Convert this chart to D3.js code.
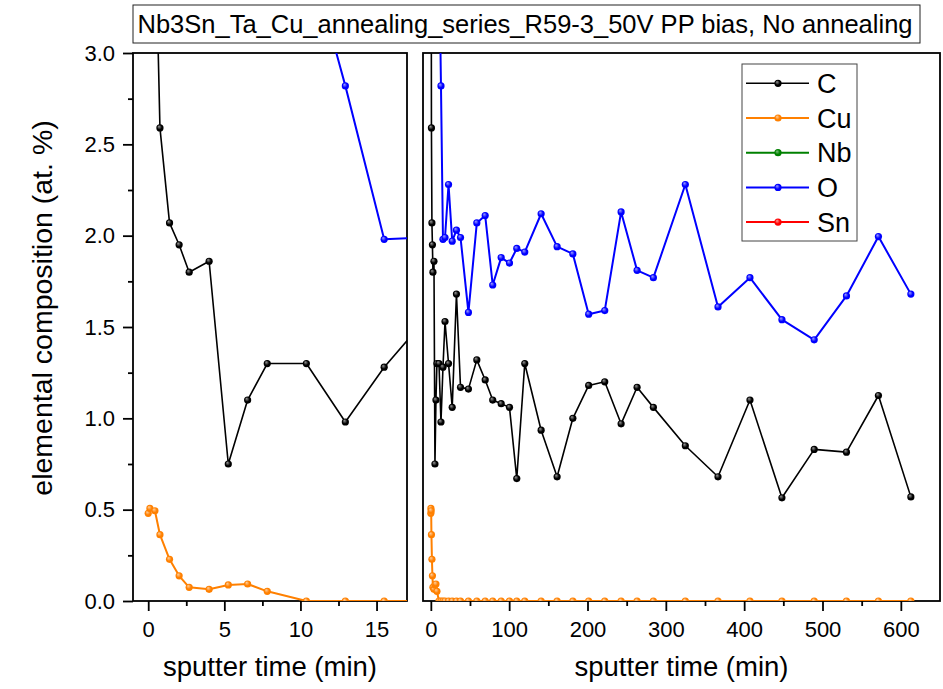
<!DOCTYPE html>
<html>
<head>
<meta charset="utf-8">
<script src="https://cdn.jsdelivr.net/npm/d3@7"></script>
<style>
  body { margin: 0; background: #fff; }
  svg { display: block; font-family: "Liberation Sans", Arial, sans-serif; }
</style>
</head>
<body>
<script>
// sputter time (min) of each depth profile step
const times = [0, 0.11, 0.44, 0.77, 1.40, 2.03, 2.69, 4.0, 5.26, 6.53, 7.82, 10.39, 12.95, 15.5,
  18.1, 22.6, 27.3, 32.7, 37.9, 48.0, 58.7, 69.4, 79.0, 89.8, 100.4, 109.7, 119.9, 140.8, 161.2,
  181.3, 201.5, 222.0, 242.9, 263.3, 284.1, 324.9, 366.6, 407.4, 448.2, 489.4, 530.6, 571.4, 612.8];

// at. % per element (first values of C and O are above the visible range)
const cValues = [8.0, 5.5, 3.8, 2.59, 2.07, 1.95, 1.80, 1.86, 0.75, 1.10, 1.30, 1.30, 0.98, 1.28,
  1.53, 1.30, 1.06, 1.68, 1.17, 1.16, 1.32, 1.21, 1.10, 1.08, 1.06, 0.67, 1.30, 0.935, 0.68,
  1.00, 1.18, 1.20, 0.97, 1.17, 1.06, 0.85, 0.68, 1.10, 0.565, 0.83, 0.815, 1.125, 0.57];
const cuValues = [0.48, 0.507, 0.494, 0.363, 0.228, 0.138, 0.075, 0.064, 0.088, 0.093, 0.053, 0, 0, 0,
  0, 0, 0, 0, 0, 0, 0, 0, 0, 0, 0, 0, 0, 0, 0,
  0, 0, 0, 0, 0, 0, 0, 0, 0, 0, 0, 0, 0, 0];
const oValues = [12, 10, 8, 7, 6, 5.5, 5, 4.6, 4.3, 4.0, 3.8, 3.6, 2.82, 1.98,
  1.99, 2.28, 1.97, 2.03, 1.99, 1.58, 2.07, 2.11, 1.73, 1.88, 1.85, 1.93, 1.91, 2.12, 1.94,
  1.90, 1.57, 1.59, 2.13, 1.81, 1.77, 2.28, 1.61, 1.77, 1.54, 1.43, 1.67, 1.995, 1.68];
// Nb and Sn lie far above the plotted range, nothing of them is visible
const nbValues = [];
const snValues = [];

const seriesNames = ['C', 'Cu', 'Nb', 'O', 'Sn'];

const yTicks = [0, 0.5, 1.0, 1.5, 2.0, 2.5, 3.0];
const yMinorTicks = [0.25, 0.75, 1.25, 1.75, 2.25, 2.75];
const leftXTicks = [0, 5, 10, 15];
const leftXMinorTicks = [2.5, 7.5, 12.5];
const rightXTicks = [0, 100, 200, 300, 400, 500, 600];
const rightXMinorTicks = [50, 150, 250, 350, 450, 550];

const titleText = 'Nb3Sn_Ta_Cu_annealing_series_R59-3_50V PP bias, No annealing';

const colors = { C: '#000000', Cu: '#ff8000', Nb: '#008000', O: '#0000ff', Sn: '#ff0000' };
const highlights = { C: '#9a9a9a', Cu: '#ffd0a0', Nb: '#80c080', O: '#a0a0ff', Sn: '#ffa0a0' };

const width = 943, height = 689,
      yTop = 53, yBottom = 601;

const seriesValues = [cValues, cuValues, nbValues, oValues, snValues];
const series = seriesNames.map((name, i) => ({
  name: name,
  points: seriesValues[i].map((v, j) => ({ t: times[j], v: v }))
}));

const svg = d3.select('body').append('svg')
              .attr('width', width)
              .attr('height', height);

svg.append('rect').attr('width', width).attr('height', height).attr('fill', '#fff');

const defs = svg.append('defs');
seriesNames.forEach((name) => {
  const g = defs.append('radialGradient')
                .attr('id', 'ball-' + name)
                .attr('cx', '0.5').attr('cy', '0.5').attr('r', '0.6')
                .attr('fx', '0.35').attr('fy', '0.3');
  g.append('stop').attr('offset', '0%').attr('stop-color', highlights[name]);
  g.append('stop').attr('offset', '55%').attr('stop-color', colors[name]);
  g.append('stop').attr('offset', '100%').attr('stop-color', colors[name]);
});

const yScale = d3.scaleLinear().domain([0, 3]).range([yBottom, yTop]);

const panels = [
  { id: 'left', x0: 133, x1: 407, domain: [-1, 17], ticks: leftXTicks, minor: leftXMinorTicks, showY: true },
  { id: 'right', x0: 423, x1: 940, domain: [-10, 650], ticks: rightXTicks, minor: rightXMinorTicks, showY: false }
];

panels.forEach((p) => {
  const xScale = d3.scaleLinear().domain(p.domain).range([p.x0, p.x1]);

  defs.append('clipPath')
      .attr('id', 'clip-' + p.id)
      .append('rect')
      .attr('x', p.x0).attr('y', yTop)
      .attr('width', p.x1 - p.x0).attr('height', yBottom - yTop);

  // frame
  svg.append('rect')
     .attr('x', p.x0).attr('y', yTop)
     .attr('width', p.x1 - p.x0).attr('height', yBottom - yTop)
     .attr('fill', 'none')
     .attr('stroke', '#000')
     .attr('stroke-width', 1.8);

  // x axis
  const xAxis = svg.append('g')
     .attr('class', 'x-axis')
     .attr('transform', 'translate(0,' + yBottom + ')')
     .call(d3.axisBottom(xScale).tickValues(p.ticks).tickSize(10).tickSizeOuter(0).tickPadding(10)
             .tickFormat(d3.format('d')));
  xAxis.select('.domain').remove();
  xAxis.selectAll('line').attr('stroke-width', 1.8);
  xAxis.selectAll('text').attr('font-size', 22).attr('fill', '#000');

  const xMinor = svg.append('g')
     .attr('transform', 'translate(0,' + yBottom + ')')
     .call(d3.axisBottom(xScale).tickValues(p.minor).tickSize(5).tickSizeOuter(0).tickFormat(''));
  xMinor.select('.domain').remove();
  xMinor.selectAll('line').attr('stroke-width', 1.8);

  svg.append('text')
     .attr('x', (p.x0 + p.x1) / 2)
     .attr('y', 676)
     .attr('text-anchor', 'middle')
     .attr('font-size', 27.5)
     .text('sputter time (min)');

  if (p.showY) {
    const yAxis = svg.append('g')
       .attr('transform', 'translate(' + p.x0 + ',0)')
       .call(d3.axisLeft(yScale).tickValues(yTicks).tickSize(10).tickSizeOuter(0).tickPadding(8)
               .tickFormat(d3.format('.1f')));
    yAxis.select('.domain').remove();
    yAxis.selectAll('line').attr('stroke-width', 1.8);
    yAxis.selectAll('text').attr('font-size', 22).attr('fill', '#000');

    const yMinor = svg.append('g')
       .attr('transform', 'translate(' + p.x0 + ',0)')
       .call(d3.axisLeft(yScale).tickValues(yMinorTicks).tickSize(5).tickSizeOuter(0).tickFormat(''));
    yMinor.select('.domain').remove();
    yMinor.selectAll('line').attr('stroke-width', 1.8);
  }

  // data, drawn over the axes and clipped to the panel
  const line = d3.line().x((d) => xScale(d.t)).y((d) => yScale(d.v));
  const plot = svg.append('g').attr('clip-path', 'url(#clip-' + p.id + ')');

  series.forEach((s) => {
    if (!s.points.length) return;
    plot.append('path')
        .datum(s.points)
        .attr('d', line)
        .attr('fill', 'none')
        .attr('stroke', colors[s.name])
        .attr('stroke-width', s.name === 'C' ? 1.6 : 2)
        .attr('stroke-linejoin', 'round');
    plot.selectAll('circle.m-' + s.name)
        .data(s.points)
        .enter()
        .append('circle')
        .attr('class', 'm-' + s.name)
        .attr('cx', (d) => xScale(d.t))
        .attr('cy', (d) => yScale(d.v))
        .attr('r', 3.6)
        .attr('fill', 'url(#ball-' + s.name + ')');
  });
});

// y label
svg.append('text')
   .attr('transform', 'translate(52,308) rotate(-90)')
   .attr('text-anchor', 'middle')
   .attr('font-size', 28.5)
   .text('elemental composition (at. %)');

// title box
svg.append('rect')
   .attr('x', 133).attr('y', 5)
   .attr('width', 787).attr('height', 38)
   .attr('fill', '#fff')
   .attr('stroke', '#222')
   .attr('stroke-width', 1);
svg.append('text')
   .attr('x', 525).attr('y', 33)
   .attr('text-anchor', 'middle')
   .attr('font-size', 25.5)
   .text(titleText);

// legend
const legend = svg.append('g').attr('id', 'legend');
legend.append('rect')
      .attr('x', 742).attr('y', 64)
      .attr('width', 115).attr('height', 177)
      .attr('fill', '#fff')
      .attr('stroke', '#444')
      .attr('stroke-width', 1);

const items = legend.selectAll('g.item')
      .data(seriesNames)
      .enter()
      .append('g')
      .attr('class', 'item')
      .attr('transform', (d, i) => 'translate(0,' + (83.3 + i * 34.7) + ')');
items.append('line')
     .attr('x1', 746).attr('x2', 809)
     .attr('stroke', (d) => colors[d])
     .attr('stroke-width', (d) => d === 'C' ? 1.6 : 2);
items.append('circle')
     .attr('cx', 778).attr('r', 3.6)
     .attr('fill', (d) => 'url(#ball-' + d + ')');
items.append('text')
     .attr('x', 817)
     .attr('dy', '0.36em')
     .attr('font-size', 27)
     .text((d) => d);
</script>
</body>
</html>
